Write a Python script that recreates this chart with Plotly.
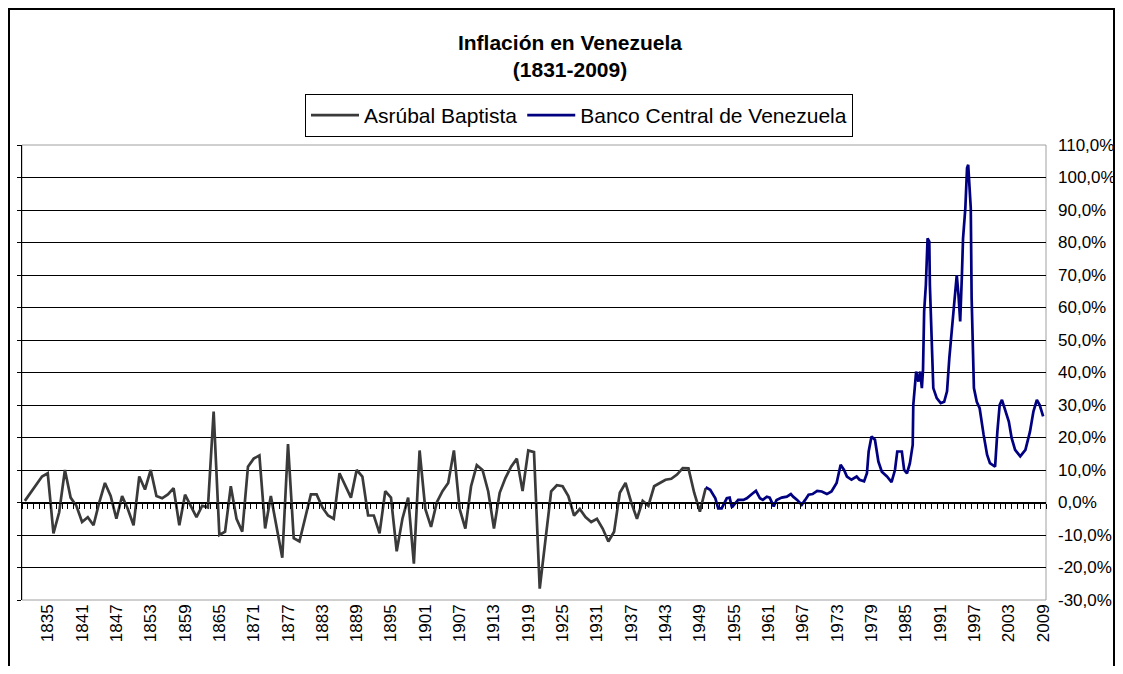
"""Inflación en Venezuela (1831-2009), Excel-style line chart."""

import plotly.graph_objects as go

# Asrúbal Baptista series, one value per year 1831-1950 (%)
baptista_years = list(range(1831, 1951))
baptista_values = [
    0.5, 3, 5.5, 8, 9, -9.5, -3, 10, 1.5, -1,            # 1831-1840
    -6, -4.5, -7, 0, 6, 2, -5, 2, -2, -7,                # 1841-1850
    8, 4, 10, 2, 1.3, 2.5, 4.4, -7, 2.4, -1,             # 1851-1860
    -4.5, -1, -1.5, 28, -10, -9, 5, -5, -9, 11,          # 1861-1870
    13.5, 14.5, -8, 2, -8, -17, 18, -11, -12, -5,        # 1871-1880
    2.5, 2.5, -1.5, -4, -5, 9, 5, 1.5, 10, 8,            # 1881-1890
    -4, -4, -9.5, 3.5, 1.5, -15, -5, 1.5, -18.8, 16,     # 1891-1900
    -2, -7.5, 0, 3.5, 6, 16, -2, -8, 5, 11.5,            # 1901-1910
    10, 3.4, -8, 3, 7.5, 11, 13.5, 3.5, 16, 15.5,        # 1911-1920
    -26.5, -12, 3.4, 5.3, 5, 2, -4, -2, -4.5, -6,        # 1921-1930
    -5, -8, -12, -9, 3, 6, 0, -5, 0.5, -1,               # 1931-1940
    5, 6, 7, 7.3, 8.6, 10.6, 10.5, 3, -2.8, 4.4,         # 1941-1950
]

# Banco Central de Venezuela series (fractional years)
bcv_years = [
    1950.0, 1950.8, 1951.7, 1952.2, 1952.8, 1953.1, 1953.7, 1954.2, 1954.6,
    1955.2, 1955.7, 1956.6, 1957.2, 1958.1, 1958.8, 1959.5, 1960.0, 1960.7,
    1961.2, 1961.9, 1962.4, 1963.3, 1964.2, 1964.9, 1965.3, 1966.0, 1966.8,
    1967.4, 1968.0, 1968.7, 1969.5, 1970.3, 1971.2, 1972.0, 1972.9, 1973.6,
    1974.2, 1974.7, 1975.5, 1976.4, 1976.9, 1977.7, 1978.2, 1978.5, 1979.0,
    1979.6, 1980.2, 1980.8, 1981.7, 1982.5, 1983.1, 1983.5, 1984.3, 1984.7,
    1985.2, 1985.7, 1986.2, 1986.3, 1986.8, 1987.2, 1987.5, 1987.8, 1988.0,
    1988.2, 1988.5, 1988.8, 1989.1, 1989.2, 1989.4, 1989.6, 1989.8, 1990.4,
    1991.1, 1991.7, 1992.2, 1992.6, 1993.0, 1993.4, 1993.9, 1994.2, 1994.5,
    1994.8, 1995.0, 1995.4, 1995.7, 1995.9, 1996.1, 1996.35, 1996.5, 1996.7,
    1996.9, 1997.4, 1997.9, 1998.6, 1999.2, 1999.7, 2000.6, 2001.0, 2001.4,
    2001.8, 2002.4, 2003.0, 2003.5, 2004.1, 2005.0, 2005.9, 2006.7, 2007.3,
    2007.9, 2008.4, 2009.0,
]
bcv_values = [
    4.7, 3.9, 1.3, -1.8, -1.8, -0.7, 1.3, 1.5, -1.5,
    -0.2, 0.8, 0.8, 1.3, 2.6, 3.6, 1.3, 0.8, 1.8,
    1.5, -1.2, 0.8, 1.5, 1.8, 2.6, 1.8, 0.8, -0.7,
    0.8, 2.4, 2.6, 3.6, 3.4, 2.6, 3.4, 6, 11.6,
    10, 8, 7, 8, 7, 6.5, 9, 15.7, 20.3,
    19.3, 12.6, 9.5, 8, 6.3, 10, 15.7, 15.7, 10,
    9, 12, 17.7, 30, 40.3, 37.2, 40.3, 35.2, 40.8,
    58.8, 67, 81.3, 80.3, 67, 55.7, 41.3, 35.2, 32.1,
    30.6, 31, 34.2, 44.4, 51.6, 58.8, 70, 63.9, 55.7,
    70, 81.3, 90.6, 102.9, 103.9, 96.7, 90.6, 62.9, 43.4,
    35.2, 31, 29, 20.8, 14.7, 12.1, 11, 21.8, 30,
    31.6, 28.5, 24.9, 19.8, 16.2, 14.2, 16.2, 21.8, 28,
    31.6, 30, 26.5,
]

year_ticks = list(range(1835, 2010, 6))
pct_ticks = list(range(-30, 111, 10))
pct_labels = [f"{v},0%" for v in pct_ticks]

FONT = "Liberation Sans, Arial, sans-serif"
X_RANGE = [1830.5, 2009.5]
Y_RANGE = [-30, 110]

# figure is 1107x658; the page adds an 8px body margin around it
W, H = 1107, 658
L, R, T, B = 14, 69, 137, 66
PW, PH = W - L - R, H - T - B

fig = go.Figure()
fig.add_trace(go.Scatter(
    x=baptista_years, y=baptista_values, name="Asrúbal Baptista",
    mode="lines", line=dict(color="#3a3a3a", width=2.7),
    xaxis="x", yaxis="y",
))
fig.add_trace(go.Scatter(
    x=bcv_years, y=bcv_values, name="Banco Central de Venezuela",
    mode="lines", line=dict(color="#000080", width=2.7),
    xaxis="x2", yaxis="y2",
))

zero_pos = (0 - Y_RANGE[0]) / (Y_RANGE[1] - Y_RANGE[0])

fig.update_layout(
    width=W, height=H,
    margin=dict(l=L, r=R, t=T, b=B, autoexpand=False),
    paper_bgcolor="white", plot_bgcolor="white",
    font=dict(family=FONT, size=17, color="black"),
    title=dict(
        text="<b>Inflación en Venezuela</b><br><b>(1831-2009)</b>",
        x=562 / W, xanchor="center", xref="container",
        y=1 - 22 / H, yanchor="top", yref="container",
        font=dict(family=FONT, size=21, color="black"),
        pad=dict(t=20),
    ),
    legend=dict(
        orientation="h", x=(571 - L) / PW, xanchor="center",
        y=1 + (T - 86) / PH, yanchor="top",
        bordercolor="black", borderwidth=1, bgcolor="white",
        font=dict(family=FONT, size=21, color="black"),
        itemwidth=48, tracegroupgap=0,
    ),
    showlegend=True,
    xaxis=dict(
        range=X_RANGE, tickmode="array", tickvals=year_ticks,
        ticktext=[str(y) for y in year_ticks], tickangle=-90,
        showgrid=False, zeroline=False, showline=False, ticks="",
        tickfont=dict(size=17), automargin=False,
    ),
    xaxis2=dict(
        range=X_RANGE, overlaying="x", anchor="free", position=zero_pos,
        tickmode="linear", tick0=1830.5, dtick=1,
        ticks="outside", ticklen=5, tickcolor="black", tickwidth=1,
        showticklabels=False, showgrid=False, zeroline=False,
        showline=True, linecolor="black", linewidth=1, automargin=False,
    ),
    yaxis=dict(
        range=Y_RANGE, tickmode="array", tickvals=pct_ticks,
        showticklabels=False, ticks="outside", ticklen=4, tickcolor="black",
        showgrid=True, gridcolor="black", gridwidth=1, zeroline=False,
        showline=True, linecolor="black", linewidth=1, automargin=False,
    ),
    yaxis2=dict(
        range=Y_RANGE, overlaying="y", side="right", anchor="x",
        tickmode="array", tickvals=pct_ticks, ticktext=pct_labels,
        showgrid=False, zeroline=False, showline=False, ticks="",
        tickfont=dict(size=17), ticklabelstandoff=11, automargin=False,
    ),
    shapes=[
        # plot area border
        dict(type="rect", xref="paper", yref="paper", x0=0, x1=1, y0=0, y1=1,
             line=dict(color="#a0a0a0", width=1), layer="below"),
        # chart area border
        dict(type="rect", xref="paper", yref="paper",
             x0=(1 - L) / PW, x1=(W - 1 - L) / PW,
             y0=-0.3, y1=1 + (T - 1) / PH,
             line=dict(color="black", width=2)),
    ],
)

fig.write_html("out.html")
